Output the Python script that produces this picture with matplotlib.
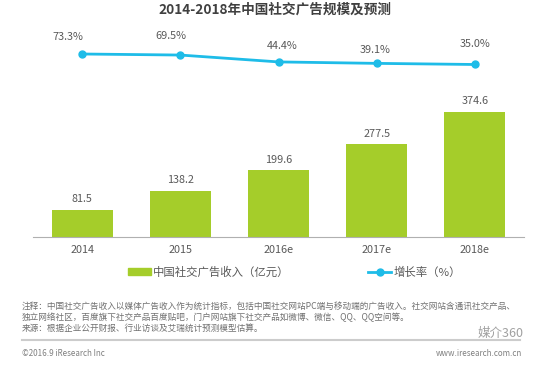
import matplotlib.pyplot as plt
from matplotlib.lines import Line2D
from matplotlib.patches import Patch

plt.rcParams['font.family'] = ['Noto Sans CJK SC', 'DejaVu Sans']

years = ['2014', '2015', '2016e', '2017e', '2018e']
revenue = [81.5, 138.2, 199.6, 277.5, 374.6]
growth = [73.3, 69.5, 44.4, 39.1, 35.0]
# label nudges (points) to mimic the original placement
label_dx = [-10, -7, 3, -1, 0]
label_dy = [9, 10, 8, 6, 11]

green = '#a5cd2a'
cyan = '#1ebce8'
gray = '#595959'

fig = plt.figure(figsize=(5.5, 3.68), dpi=100)
ax = fig.add_axes([33 / 550, 0.356, 491 / 550, 207 / 368])
x = range(len(years))
ax.bar(x, revenue, width=0.62, color=green)
for i, v in zip(x, revenue):
    ax.annotate(f'{v}', (i, v), xytext=(0, 4), textcoords='offset points',
                ha='center', va='bottom', fontsize=7.8, color=gray)
ax.set_xlim(-0.5, 4.5)
ax.set_ylim(0, 620)
ax.set_yticks([])
ax.set_xticks(list(x))
ax.set_xticklabels(years, fontsize=7.8, color=gray)
ax.tick_params(axis='x', length=0, pad=6)
for s in ['top', 'right', 'left']:
    ax.spines[s].set_visible(False)
ax.spines['bottom'].set_color('#b0b0b0')

ax2 = ax.twinx()
ax2.plot(x, growth, color=cyan, lw=2, marker='o', ms=5)
for i, v, dx, dy in zip(x, growth, label_dx, label_dy):
    ax2.annotate(f'{v:.1f}%', (i, v), xytext=(dx, dy), textcoords='offset points',
                 ha='center', va='bottom', fontsize=7.8, color=gray)
ax2.set_ylim(-595, 161)
ax2.axis('off')

fig.text(0.5, 1 - 10 / 368, '2014-2018年中国社交广告规模及预测', ha='center', va='center',
         fontsize=9.8, fontweight='bold', color='#404040')

handles = [Patch(color=green), Line2D([], [], color=cyan, lw=2, marker='o', ms=5)]
fig.legend(handles[:1], ['中国社交广告收入（亿元）'], loc='center left',
           bbox_to_anchor=(118 / 550, 1 - 272 / 368), frameon=False, fontsize=8.2,
           handlelength=2, handleheight=0.6, handletextpad=0.2, labelcolor=gray)
fig.legend(handles[1:], ['增长率（%）'], loc='center left',
           bbox_to_anchor=(358 / 550, 1 - 272 / 368), frameon=False, fontsize=8.2,
           handlelength=2, handletextpad=0.2, labelcolor=gray)

notes = ['注释：中国社交广告收入以媒体广告收入作为统计指标，包括中国社交网站PC端与移动端的广告收入。社交网站含通讯社交产品、',
         '独立网络社区，百度旗下社交产品百度贴吧，门户网站旗下社交产品如微博、微信、QQ、QQ空间等。',
         '来源：根据企业公开财报、行业访谈及艾瑞统计预测模型估算。']
for k, t in enumerate(notes):
    fig.text(22 / 550, 1 - (306 + 11 * k) / 368, t, fontsize=6.2, color='#707070', va='center')
fig.add_artist(Line2D([22 / 550, 520 / 550], [1 - 340 / 368] * 2, color='#cccccc', lw=1.5))
fig.text(22 / 550, 1 - 353 / 368, '©2016.9 iResearch Inc', fontsize=5.8, color='#808080', va='center')
fig.text(522 / 550, 1 - 353 / 368, 'www.iresearch.com.cn', fontsize=5.8, color='#808080',
         va='center', ha='right')
fig.text(524 / 550, 1 - 334 / 368, '媒介360', fontsize=9, color='#a0a0a0', va='center', ha='right')

fig.savefig('out.png', dpi=100)
